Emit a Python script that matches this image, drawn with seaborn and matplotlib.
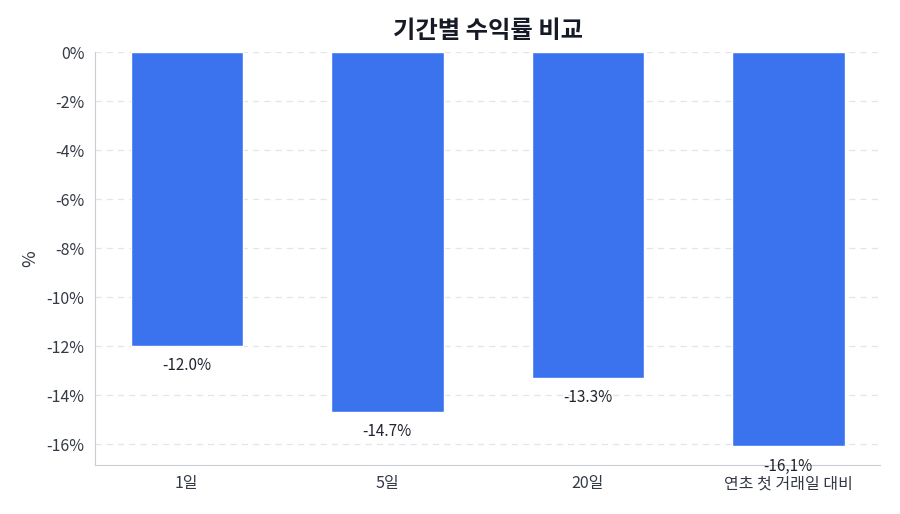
import pandas as pd
import numpy as np
import matplotlib.pyplot as plt
import seaborn as sns

periods = ["1일", "5일", "20일", "연초 첫 거래일 대비"]
returns = [-12.0, -14.7, -13.3, -16.1]
value_labels = ["-12.0%", "-14.7%", "-13.3%", "-16,1%"]

sns.set_style("white")
plt.rcParams["font.family"] = ["Noto Sans CJK KR", "DejaVu Sans"]
plt.rcParams["axes.unicode_minus"] = False

df = pd.DataFrame({"period": periods, "ret": returns})

fig = plt.figure(figsize=(9, 5.14), dpi=100)
ax = fig.add_axes([0.1056, 0.0953, 0.8724, 0.8035])

sns.barplot(data=df, x="period", y="ret", color="#3B73EE", width=0.56,
            saturation=1, ax=ax, zorder=2)

ax.set_xlim(-0.458, 3.458)
ax.set_ylim(min(returns) * 1.047, 0)
ax.set_yticks(np.arange(0, -17, -2))
ax.set_yticklabels([f"{int(v)}%" for v in np.arange(0, -17, -2)])
ax.yaxis.grid(True, linestyle=(0, (5, 4)), color="#e3e5e8", linewidth=0.9, zorder=0)
ax.set_axisbelow(True)

for i, (v, lab) in enumerate(zip(returns, value_labels)):
    ax.annotate(lab, (i, v), xytext=(0, -8), textcoords="offset points",
                ha="center", va="top", fontsize=11, color="#1f2430")

for s in ["top", "right"]:
    ax.spines[s].set_visible(False)
for s in ["left", "bottom"]:
    ax.spines[s].set_color("#c9ccd2")
ax.tick_params(axis="both", labelsize=11.5, colors="#333a45", length=4, width=1)
ax.set_xlabel("")
ax.set_ylabel("%", fontsize=13, color="#333a45", labelpad=5)
ax.set_title("기간별 수익률 비교", fontsize=17.5, fontweight="bold",
             color="#151a26", pad=10)

plt.savefig("out.png", dpi=100)
